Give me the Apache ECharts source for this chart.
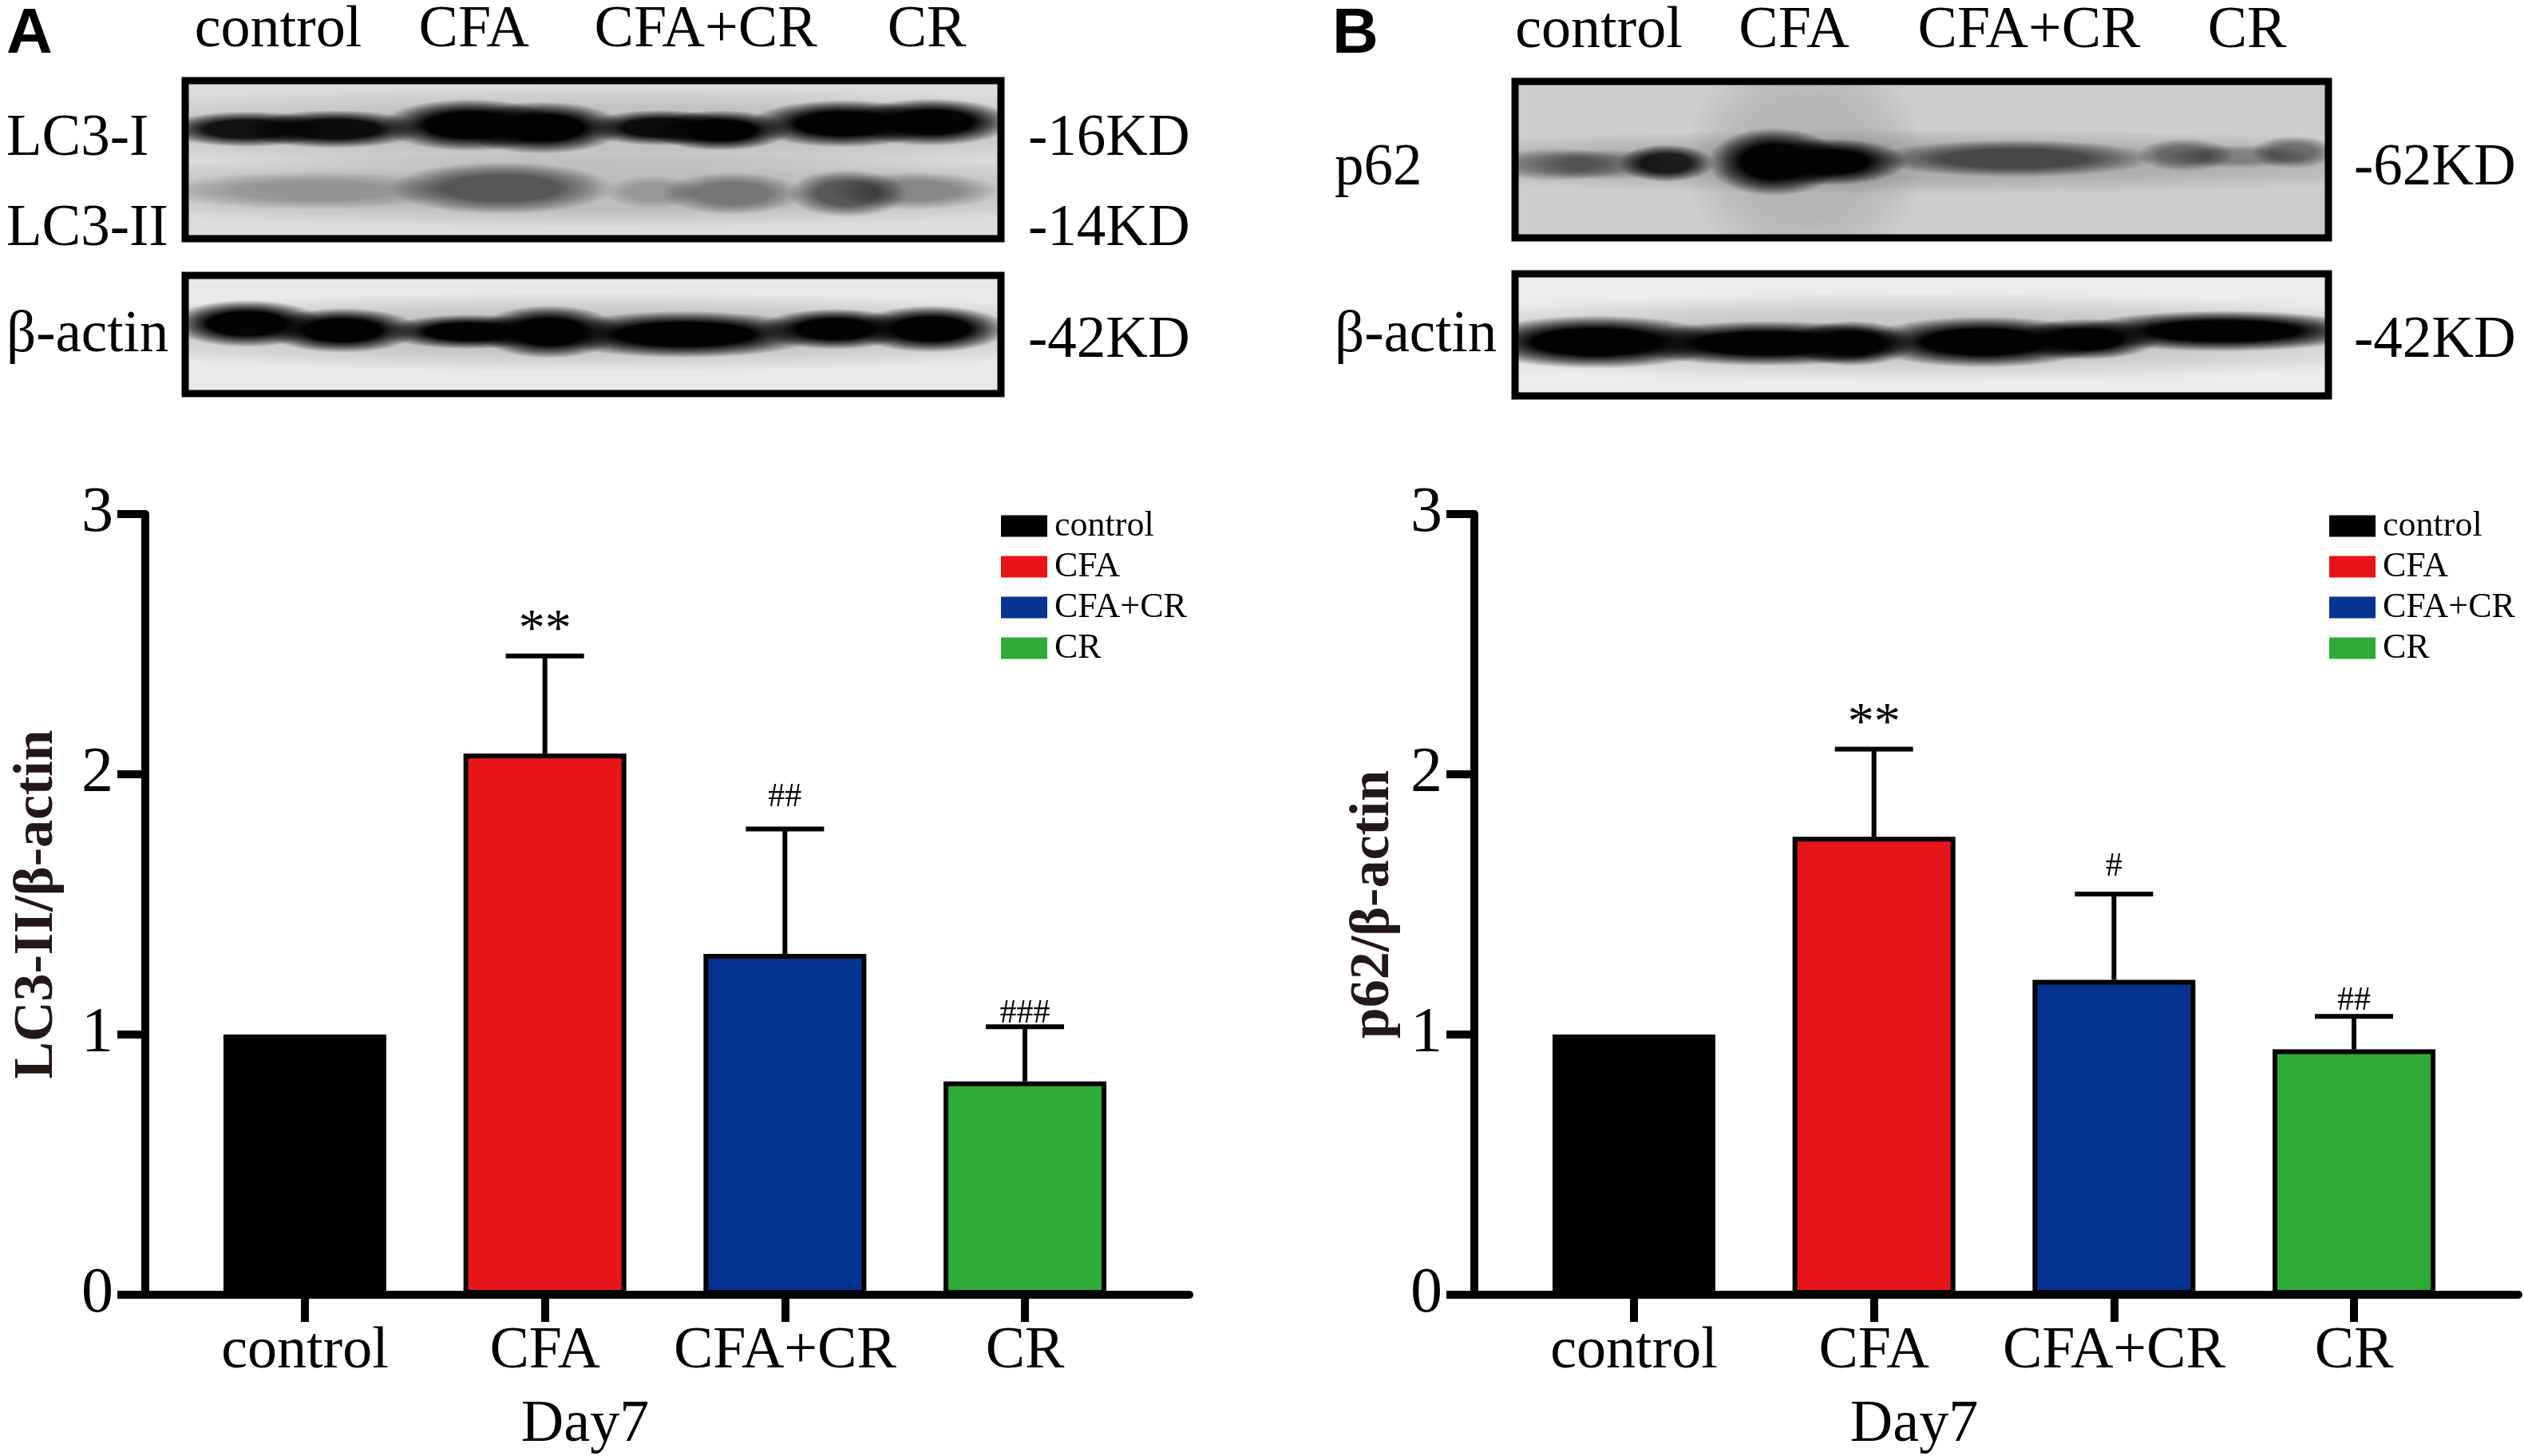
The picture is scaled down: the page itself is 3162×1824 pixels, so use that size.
<!DOCTYPE html>
<html>
<head>
<meta charset="utf-8">
<title>Day7 LC3 p62</title>
<script src="https://cdn.jsdelivr.net/npm/echarts@6/dist/echarts.min.js"></script>
<style>
html,body{margin:0;padding:0;background:#fff;}
#main{width:3162px;height:1824px;}
</style>
</head>
<body>
<div id="main"></div>
<script>
var categories = ['control', 'CFA', 'CFA+CR', 'CR'];
var colors = ['#000000', '#E71519', '#043392', '#2EAB35'];

//柱高 误差 显著性标记
var lc3Means = [1, 2.08, 1.31, 0.82];
var lc3Errors = [0, 0.375, 0.48, 0.21];
var lc3Marks = ['', '**', '##', '###'];
var lc3MarkY = [0, 2.55, 1.91, 1.08];

var p62Means = [1, 1.76, 1.21, 0.943];
var p62Errors = [0, 0.337, 0.33, 0.127];
var p62Marks = ['', '**', '#', '##'];
var p62MarkY = [0, 2.19, 1.645, 1.13];

//条带 [泳道位置, 高度, 宽, 厚, 灰度] 单位都是膜的百分比
var lc3Bands = [
    [50, 70, 100, 36, .12], [7.6, 69.3, 14, 15, .92], [18.3, 69.3, 15, 16, .95],
    [34.9, 71.9, 14.6, 22, 1], [43.7, 70.2, 13.7, 22, 1], [58.3, 70.2, 12.7, 15, .95],
    [65.6, 68.5, 11.7, 17, 1], [80.7, 72.8, 15.6, 20, 1], [91.4, 73.7, 13.7, 20, 1],
    [50, 31, 100, 32, .14], [15.4, 30.3, 25, 16, .22], [38.8, 32, 18.5, 22, .55],
    [57.3, 29.5, 8, 14, .2], [67.1, 28.6, 11.7, 18, .38], [81.2, 28.6, 9.8, 20, .55],
    [89.5, 30.3, 13.7, 16, .3]
];
var actinBandsA = [
    [50, 52, 100, 45, .15], [7.6, 59.2, 12.7, 26.5, 1], [19.3, 53.5, 12.7, 25.3, 1],
    [34.9, 52.3, 14.6, 19.6, 1], [44.6, 52.3, 11.7, 30, 1], [61.2, 50, 22.4, 26.5, 1],
    [79.7, 54.6, 12.7, 23, 1], [91.4, 54.6, 12.7, 26.5, 1]
];
var p62Bands = [
    [35.7, 50, 20, 100, .12], [50, 48.6, 100, 28, .15], [5.2, 46.9, 12, 14, .35],
    [11, 46.9, 13, 13, .3], [18.6, 47.7, 8, 16, .85], [31.9, 48.6, 11, 29, 1],
    [38.6, 48.6, 13, 20, 1], [61.4, 50.7, 23.5, 16, .6], [82.4, 53, 8, 14, .42],
    [89, 52.1, 12, 10, .28], [95.7, 54.7, 7, 14, .42]
];
var actinBandsB = [
    [50, 48, 100, 50, .15], [10, 44.2, 21, 29.1, 1], [31, 43, 23.8, 24.7, 1],
    [41.4, 43, 10.5, 24.7, 1], [57.6, 44.2, 20, 28, 1], [70, 46.4, 12.4, 22.4, 1],
    [87.1, 53.1, 24.8, 22.4, 1]
];

//膜左右两边的文字 [文字, 高度]
var lc3Left = [['LC3-I', 62.6], ['LC3-II', 5.6]];
var lc3Right = [['-16KD', 62.6], ['-14KD', 5.6]];
var actinLeftA = [['β-actin', 48.7]];
var actinRightA = [['-42KD', 43.9]];
var p62Left = [['p62', 43.9]];
var p62Right = [['-62KD', 43.9]];
var actinLeftB = [['β-actin', 48.9]];
var actinRightB = [['-42KD', 44.3]];
var laneTopA = [11.4, 35.4, 63.8, 90.9];
var laneTopB = [10.3, 34.3, 63.2, 90];

var SERIF = '"Liberation Serif"';
var grids = [], xAxes = [], yAxes = [], series = [], legends = [];

function lookup(list) {
    return function (v) {
        for (var i = 0; i < list.length; i++) {
            if (list[i][1] === v) return list[i][0];
        }
        return '';
    };
}
function second(list) {
    return list.map(function (d) { return d[1]; });
}

//一张膜: 灰底黑框 + 模糊条带
function addBlot(box, bg, bands, left, right, leftMargin, rightMargin, lanes) {
    var idx = grids.length;
    grids.push({
        show: true, left: box[0], top: box[1], width: box[2] - box[0], height: box[3] - box[1],
        backgroundColor: bg, borderColor: '#000', borderWidth: 9, outerBoundsMode: 'none'
    });
    var x = {
        gridIndex: idx, type: 'value', min: 0, max: 100, position: 'top',
        axisLine: {show: false}, axisTick: {show: false}, splitLine: {show: false},
        axisLabel: {show: false}
    };
    if (lanes) {
        x.axisLabel = {
            show: true, customValues: lanes, margin: 25, color: '#000',
            fontFamily: SERIF, fontSize: 74,
            formatter: function (v) { return categories[lanes.indexOf(v)] || ''; }
        };
    }
    xAxes.push(x);
    [[left, 'left', leftMargin], [right, 'right', rightMargin]].forEach(function (s) {
        yAxes.push({
            gridIndex: idx, type: 'value', min: 0, max: 100, position: s[1],
            axisLine: {show: false}, axisTick: {show: false}, splitLine: {show: false},
            axisLabel: {
                customValues: second(s[0]), margin: s[2], align: 'left', color: '#000',
                fontFamily: SERIF, fontSize: 73, formatter: lookup(s[0])
            }
        });
    });
    series.push({
        type: 'custom', xAxisIndex: idx, yAxisIndex: yAxes.length - 2, silent: true, clip: true,
        data: bands,
        renderItem: function (params, api) {
            var c = api.coord([api.value(0), api.value(1)]);
            var d = api.value(4);
            return {
                type: 'circle', shape: {cx: 0, cy: 0, r: 1}, x: c[0], y: c[1],
                scaleX: api.value(2) * params.coordSys.width / 100 * .75,
                scaleY: api.value(3) * params.coordSys.height / 100 * .75,
                style: {
                    fill: {
                        type: 'radial', x: .5, y: .5, r: .5,
                        colorStops: [
                            {offset: 0, color: 'rgba(5,2,2,' + d + ')'},
                            {offset: .5, color: 'rgba(5,2,2,' + d + ')'},
                            {offset: .75, color: 'rgba(5,2,2,' + d * .55 + ')'},
                            {offset: 1, color: 'rgba(5,2,2,0)'}
                        ]
                    }
                }
            };
        }
    });
}

//柱状图 x轴用数值轴, 两头要比第一根和最后一根柱子长
function addBars(left, legendLeft, yName, nameGap, means, errors, marks, markY) {
    var idx = grids.length;
    grids.push({left: left, top: 644, width: 1308, height: 978, outerBoundsMode: 'none'});
    xAxes.push({
        gridIndex: idx, type: 'value', min: -0.665, max: 3.685, position: 'bottom',
        name: 'Day7', nameLocation: 'middle', nameGap: 127,
        nameTextStyle: {fontFamily: SERIF, fontSize: 74, color: '#000', padding: [0, 206, 0, 0]},
        axisLine: {onZero: false, lineStyle: {color: '#000', width: 10}},
        axisTick: {customValues: [0, 1, 2, 3], length: 34, lineStyle: {color: '#000', width: 10}},
        axisLabel: {
            customValues: [0, 1, 2, 3], margin: 35, color: '#000', fontFamily: SERIF, fontSize: 74,
            formatter: function (v) { return categories[v]; }
        },
        splitLine: {show: false}
    });
    var yIdx = yAxes.length;
    yAxes.push({
        gridIndex: idx, type: 'value', min: 0, max: 3, interval: 1, position: 'left',
        name: yName, nameLocation: 'middle', nameGap: nameGap,
        nameTextStyle: {fontFamily: SERIF, fontSize: 70, fontWeight: 'bold', color: '#231815'},
        axisLine: {show: true, onZero: false, lineStyle: {color: '#000', width: 10}},
        axisTick: {show: true, length: 35, lineStyle: {color: '#000', width: 10}},
        axisLabel: {margin: 40, color: '#000', fontFamily: SERIF, fontSize: 80},
        splitLine: {show: false}
    });
    categories.forEach(function (c, i) {
        series.push({
            name: c, type: 'bar', xAxisIndex: idx, yAxisIndex: yIdx, barWidth: 204, barGap: '-100%',
            itemStyle: {color: colors[i], borderColor: '#000', borderWidth: 6},
            data: [[i, means[i]]]
        });
    });
    //误差线
    series.push({
        type: 'custom', xAxisIndex: idx, yAxisIndex: yIdx, silent: true, clip: false, z: 1,
        data: categories.map(function (c, i) { return [i, means[i], errors[i]]; }),
        renderItem: function (params, api) {
            if (!api.value(2)) return null;
            var low = api.coord([api.value(0), api.value(1)]);
            var top = api.coord([api.value(0), api.value(1) + api.value(2)]);
            var st = {stroke: '#000', lineWidth: 6, fill: null};
            return {type: 'group', children: [
                {type: 'line', shape: {x1: low[0], y1: low[1], x2: top[0], y2: top[1]}, style: st},
                {type: 'line', shape: {x1: top[0] - 49, y1: top[1], x2: top[0] + 49, y2: top[1]}, style: st}
            ]};
        }
    });
    //显著性标记
    series.push({
        type: 'custom', xAxisIndex: idx, yAxisIndex: yIdx, silent: true, clip: false,
        data: categories.map(function (c, i) { return [i, markY[i]]; }),
        renderItem: function (params, api) {
            var t = marks[params.dataIndex];
            if (!t) return null;
            var p = api.coord([api.value(0), api.value(1)]);
            return {type: 'text', style: {
                text: t, x: p[0], y: p[1], align: 'center', verticalAlign: 'middle',
                fontFamily: SERIF, fontSize: t.charAt(0) === '*' ? 66 : 42, fill: '#000'
            }};
        }
    });
    legends.push({
        left: legendLeft, top: 637, orient: 'vertical', data: categories, icon: 'rect',
        itemWidth: 58, itemHeight: 27, itemGap: 7, selectedMode: false, padding: 0,
        itemStyle: {borderWidth: 0},
        textStyle: {fontFamily: SERIF, fontSize: 44, color: '#000', padding: [0, 0, 0, 4]}
    });
}

addBlot([232, 101, 1254, 299], '#dcdcdc', lc3Bands, lc3Left, lc3Right, 224, 34, laneTopA);
addBlot([232, 345, 1254, 493], '#e8e8e8', actinBandsA, actinLeftA, actinRightA, 224, 34, null);
addBlot([1898, 102, 2917, 298], '#cdcdcd', p62Bands, p62Left, p62Right, 226, 32, laneTopB);
addBlot([1898, 343, 2917, 496], '#ececec', actinBandsB, actinLeftB, actinRightB, 226, 32, null);
addBars(182, 1254, 'LC3-II/β-actin', 100, lc3Means, lc3Errors, lc3Marks, lc3MarkY);
addBars(1847, 2918, 'p62/β-actin', 91, p62Means, p62Errors, p62Marks, p62MarkY);

var chart = echarts.init(document.getElementById('main'));
chart.setOption({
    animation: false,
    backgroundColor: '#fff',
    title: [
        {text: 'A', left: 8, top: 4, padding: 0, textStyle: {fontFamily: '"Liberation Sans"', fontWeight: 'bold', fontSize: 80, color: '#000'}},
        {text: 'B', left: 1669, top: 4, padding: 0, textStyle: {fontFamily: '"Liberation Sans"', fontWeight: 'bold', fontSize: 80, color: '#000'}}
    ],
    legend: legends,
    grid: grids,
    xAxis: xAxes,
    yAxis: yAxes,
    series: series
});
</script>
</body>
</html>
